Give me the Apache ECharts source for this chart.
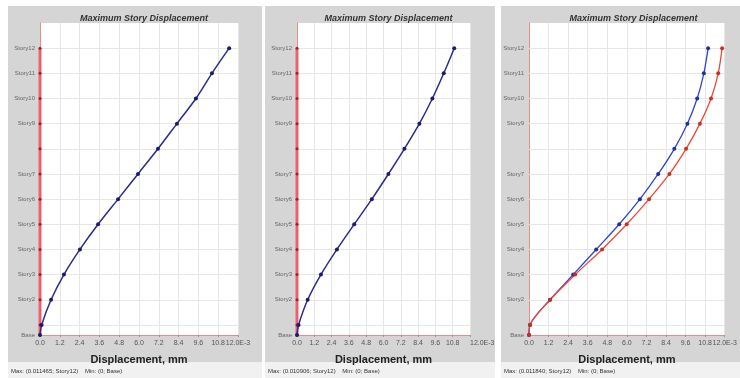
<!DOCTYPE html>
<html>
<head>
<meta charset="utf-8">
<script src="https://cdn.jsdelivr.net/npm/echarts@6/dist/echarts.min.js"></script>
<style>
  html, body { margin: 0; padding: 0; background: #fff; }
  #wrap { position: relative; width: 740px; height: 378px; overflow: hidden; }
  .panel { position: absolute; top: 6px; height: 356px; background: #d5d5d5; }
  .status { position: absolute; top: 362px; height: 16px; background: #f1f1f1; }
  #chart { position: absolute; left: 0; top: 0; width: 740px; height: 378px; }
</style>
</head>
<body>
<div id="wrap">
  <div class="panel" style="left:8px;width:254px"></div>
  <div class="panel" style="left:265px;width:230px"></div>
  <div class="panel" style="left:501px;width:239px"></div>
  <div class="status" style="left:8px;width:254px"></div>
  <div class="status" style="left:265px;width:230px"></div>
  <div class="status" style="left:501px;width:239px"></div>
  <div id="chart"></div>
</div>
<script>
// story levels (m) and names
const stories = ['Base', 'Story1', 'Story2', 'Story3', 'Story4', 'Story5', 'Story6', 'Story7', 'Story8', 'Story9', 'Story10', 'Story11', 'Story12']
const elevations = [0, 1.2, 4.2, 7.2, 10.2, 13.2, 16.2, 19.2, 22.2, 25.2, 28.2, 31.2, 34.2]
const hiddenLabels = ['Story1', 'Story8']

// displacements, mm (x 1E-3 on the axis)
const leftX = [0, 0.10, 0.67, 1.45, 2.42, 3.52, 4.73, 5.94, 7.15, 8.30, 9.45, 10.42, 11.465]
const leftY = [0, 0, 0, 0, 0, 0, 0, 0, 0, 0, 0, 0, 0]
const midX = [0, 0.11, 0.74, 1.66, 2.77, 3.97, 5.19, 6.34, 7.45, 8.49, 9.39, 10.18, 10.906]
const midY = [0, 0, 0, 0, 0, 0, 0, 0, 0, 0, 0, 0, 0]
const rightBlue = [0, 0.06, 1.29, 2.71, 4.12, 5.53, 6.80, 7.92, 8.91, 9.71, 10.31, 10.72, 10.98]
const rightRed = [0, 0.06, 1.29, 2.83, 4.48, 5.99, 7.36, 8.61, 9.63, 10.48, 11.16, 11.60, 11.84]

const font = 'Liberation Sans, Arial, sans-serif'
const grids = [
  { left: 40, top: 23, width: 198, height: 312 },
  { left: 297, top: 23, width: 173, height: 312 },
  { left: 529, top: 23, width: 199, height: 312 }
]

const pairs = (vals) => vals.map((v, i) => [v, elevations[i]])

const storyLabel = (v) => {
  const i = elevations.findIndex(e => Math.abs(e - v) < 0.01)
  if (i < 0 || hiddenLabels.includes(stories[i])) return ''
  return stories[i]
}

const statusText = (vals) => {
  const max = Math.max(...vals)
  return `Max: (${(max / 1000).toFixed(6)}; ${stories[vals.indexOf(max)]})    Min: (0; Base)`
}

const chart = echarts.init(document.getElementById('chart'))

const xAxes = grids.map((g, i) => ({
  type: 'value',
  gridIndex: i,
  min: 0,
  max: 12,
  interval: 1.2,
  name: 'Displacement, mm',
  nameLocation: 'middle',
  nameGap: 19,
  nameTextStyle: { fontFamily: font, fontSize: 11, fontWeight: 'bold', color: '#222' },
  axisLine: { lineStyle: { color: '#ec8a8a', width: 1 } },
  axisTick: { length: 2, lineStyle: { color: '#d08080' } },
  axisLabel: {
    fontFamily: font, fontSize: 7, color: '#555', margin: 5,
    showMaxLabel: true, hideOverlap: false,
    alignMaxLabel: i === 1 ? 'left' : 'center',
    formatter: (v) => v === 12 ? '12.0E-3' : v.toFixed(1)
  },
  splitLine: { lineStyle: { color: '#e6e6e6', width: 1 } }
}))

const yAxes = grids.map((g, i) => ({
  type: 'value',
  gridIndex: i,
  min: 0,
  max: 37.2,
  interval: 0.6,
  axisLine: { show: true, lineStyle: { color: '#ec8a8a', width: 1 } },
  axisTick: { show: false },
  axisLabel: { fontFamily: font, fontSize: 6, color: '#666', margin: 5, formatter: storyLabel },
  splitLine: { show: false }
}))

// horizontal grid lines at each story level
const storyLines = grids.map((g, i) => ({
  type: 'line',
  xAxisIndex: i,
  yAxisIndex: i,
  data: [],
  z: 1,
  silent: true,
  markLine: {
    z: 1,
    silent: true,
    symbol: 'none',
    label: { show: false },
    lineStyle: { color: '#e6e6e6', type: 'solid', width: 1 },
    data: elevations.slice(1).map(e => ({ yAxis: e }))
  }
}))

const curve = (name, idx, vals, color, mark, width, smooth, size) => ({
  name,
  type: 'line',
  xAxisIndex: idx,
  yAxisIndex: idx,
  data: pairs(vals),
  smooth,
  z: 3,
  symbol: 'circle',
  symbolSize: size,
  lineStyle: { color, width },
  itemStyle: { color: mark, borderWidth: 0 },
  animation: false
})

const option = {
  animation: false,
  grid: grids.map(g => ({ ...g, show: true, backgroundColor: '#fff', borderWidth: 0 })),
  title: grids.map(g => ({
    text: 'Maximum Story Displacement',
    left: g.left + g.width / 2,
    top: 9,
    textAlign: 'center',
    textStyle: { fontFamily: font, fontSize: 9, fontWeight: 'bold', fontStyle: 'italic', color: '#333' }
  })),
  xAxis: xAxes,
  yAxis: yAxes,
  graphic: [
    { type: 'text', left: 11, top: 368, style: { text: statusText(leftX), font: `6px ${font}`, fill: '#333' } },
    { type: 'text', left: 268, top: 368, style: { text: statusText(midX), font: `6px ${font}`, fill: '#333' } },
    { type: 'text', left: 504, top: 368, style: { text: statusText(rightRed), font: `6px ${font}`, fill: '#333' } }
  ],
  series: [
    ...storyLines,
    curve('Y', 0, leftY, 'rgba(240, 80, 96, 0.85)', '#a02030', 3, false, 3),
    curve('X', 0, leftX, '#2c2c8c', '#1c1c6c', 1.5, 0.3, 4),
    curve('Y', 1, midY, 'rgba(240, 80, 96, 0.85)', '#a02030', 3, false, 3),
    curve('X', 1, midX, '#2c2c8c', '#1c1c6c', 1.5, 0.3, 4),
    curve('X', 2, rightBlue, '#2f45d0', '#1f2fa0', 1.3, 0.3, 4),
    curve('Y', 2, rightRed, '#ea4a3a', '#c83020', 1.3, 0.3, 4)
  ]
}

chart.setOption(option)
</script>
</body>
</html>
